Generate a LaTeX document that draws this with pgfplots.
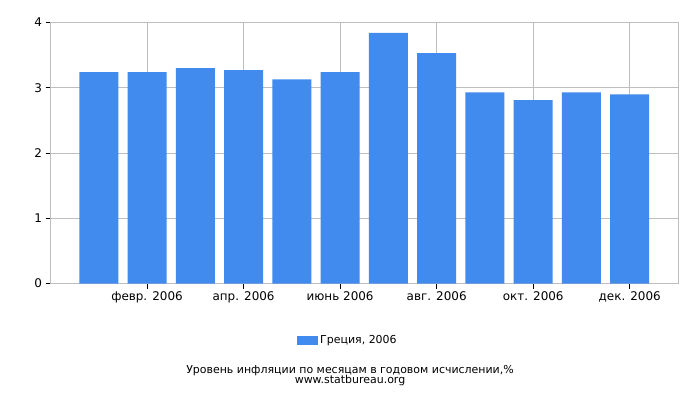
\documentclass[border=0pt]{standalone}
\usepackage{fontspec}
\setmainfont{DejaVu Sans}
\usepackage{pgfplots}
\pgfplotsset{compat=1.18}
\definecolor{barblue}{RGB}{65,139,239}
\definecolor{gridgray}{RGB}{190,190,190}
\begin{document}
\begin{tikzpicture}[x=1bp,y=1bp]
\useasboundingbox (0,0) rectangle (700,400);
\begin{axis}[
  at={(50.5bp,116.5bp)}, anchor=south west,
  scale only axis, width=627.5bp, height=261bp,
  xmin=-1, xmax=12, ymin=0, ymax=4,
  xtick={1,3,5,7,9,11},
  xticklabels={февр. 2006, апр. 2006, июнь 2006, авг. 2006, окт. 2006, дек. 2006},
  ytick={0,1,2,3,4},
  xtick pos=bottom, ytick pos=left,
  tick align=outside, major tick length=5bp,
  tick style={black, line width=0.8pt},
  grid=major, grid style={gridgray, line width=0.8pt},
  axis line style={gridgray, line width=0.8pt},
  ticklabel style={font=\fontsize{12}{14}\selectfont},
  /pgf/number format/assume math mode=true,
  legend style={at={(0.474,-0.2165)}, anchor=center, draw=none,
    font=\fontsize{11}{13}\selectfont},
  legend image code/.code={\fill[#1] (0bp,-4.5bp) rectangle (21bp,4.5bp);},
]
\addplot[ybar, bar width=39bp, fill=barblue, draw=none] coordinates {
  (0,3.24) (1,3.24) (2,3.30) (3,3.27) (4,3.13) (5,3.24)
  (6,3.84) (7,3.53) (8,2.93) (9,2.81) (10,2.93) (11,2.90)
};
\addlegendentry{Греция, 2006}
\end{axis}
\node[font=\fontsize{11}{12}\selectfont, inner sep=0] at (350,29.3) {Уровень инфляции по месяцам в годовом исчислении,\%};
\node[font=\fontsize{11}{12}\selectfont, inner sep=0] at (350,19.3) {www.statbureau.org};
\end{tikzpicture}
\end{document}
